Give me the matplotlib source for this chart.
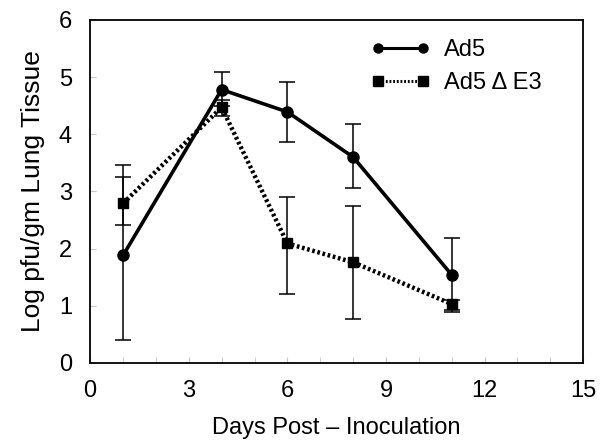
import matplotlib
matplotlib.use("Agg")
import matplotlib.pyplot as plt
from matplotlib.ticker import MultipleLocator

plt.rcParams["font.family"] = ["Liberation Sans", "DejaVu Sans"]

days = [1, 4, 6, 8, 11]

# Ad5 (wild type)
ad5_mean = [1.88, 4.78, 4.39, 3.60, 1.54]
ad5_lo = [0.40, 4.50, 3.86, 3.06, 0.89]
ad5_hi = [3.25, 5.08, 4.92, 4.18, 2.18]

# Ad5 delta E3
de3_mean = [2.79, 4.47, 2.09, 1.76, 1.03]
de3_lo = [2.41, 4.31, 1.20, 0.77, 0.92]
de3_hi = [3.46, 4.60, 2.90, 2.75, 1.10]

fig = plt.figure(figsize=(6.05, 4.41), dpi=100)
ax = fig.add_axes([0.149, 0.177, 0.815, 0.778])

ad5_err = [[m - l for m, l in zip(ad5_mean, ad5_lo)],
           [h - m for m, h in zip(ad5_mean, ad5_hi)]]
de3_err = [[m - l for m, l in zip(de3_mean, de3_lo)],
           [h - m for m, h in zip(de3_mean, de3_hi)]]

ax.errorbar(days, ad5_mean, yerr=ad5_err, fmt="none", ecolor="black",
            elinewidth=1.1, capsize=6, capthick=1.1, zorder=2)
ax.errorbar(days, de3_mean, yerr=de3_err, fmt="none", ecolor="black",
            elinewidth=1.1, capsize=6, capthick=1.1, zorder=2)

ax.plot(days, ad5_mean, color="black", lw=2.6, marker="o", ms=8,
        label="Ad5", zorder=3)
ax.plot(days, de3_mean, color="black", lw=3.2, linestyle=(0, (0.6, 0.6)),
        marker="s", ms=7, label="Ad5 \u0394 E3", zorder=3)

ax.set_xlim(0, 15)
ax.set_ylim(0, 6)
ax.set_xticks([0, 3, 6, 9, 12, 15])
ax.set_yticks([0, 1, 2, 3, 4, 5, 6])
ax.xaxis.set_minor_locator(MultipleLocator(1))
ax.tick_params(which="both", direction="in", length=4, color="#c8c8c8")
ax.tick_params(which="major", labelsize=17)
ax.tick_params(axis="y", pad=13)
ax.tick_params(axis="x", pad=12)
for s in ax.spines.values():
    s.set_linewidth(1.3)

ax.set_xlabel("Days Post \u2013 Inoculation", fontsize=17, labelpad=11)
ax.set_ylabel("Log pfu/gm Lung Tissue", fontsize=19, labelpad=10)

leg = ax.legend(loc="upper left", bbox_to_anchor=(0.570, 0.943), frameon=False,
                fontsize=17, handlelength=2.5, handletextpad=0.6,
                labelspacing=0.45, numpoints=2, borderpad=0, borderaxespad=0)
for h in leg.legend_handles:
    h.set_markersize(6.5)
    h.set_linewidth(2.2)

fig.savefig("out.png", dpi=100)
